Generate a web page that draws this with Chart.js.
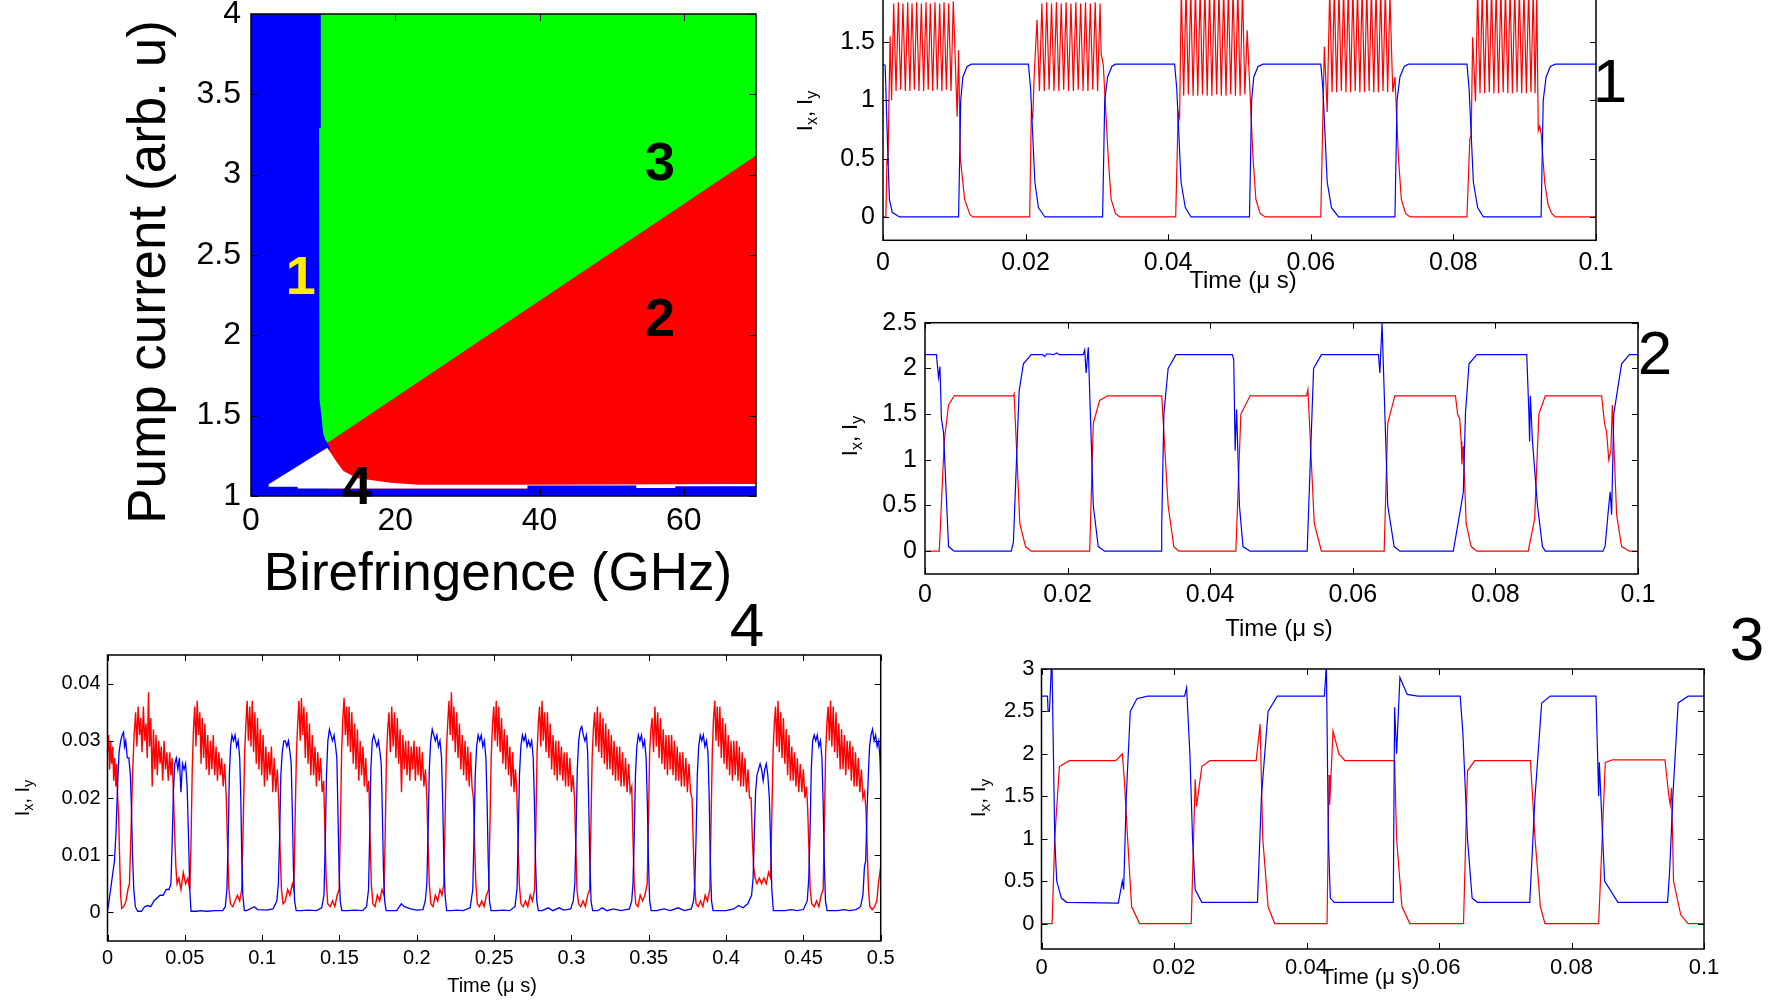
<!DOCTYPE html>
<html>
<head>
<meta charset="utf-8">
<script src="https://cdn.jsdelivr.net/npm/chart.js@4.4.1/dist/chart.umd.min.js"></script>
<style>
  html, body { margin: 0; padding: 0; background: #fff; width: 1775px; height: 1001px; overflow: hidden; }
  canvas { position: absolute; }
</style>
</head>
<body>
<canvas id="mapChart"></canvas>
<canvas id="trace1"></canvas>
<canvas id="trace2"></canvas>
<canvas id="trace3"></canvas>
<canvas id="trace4"></canvas>
<script>
/* ========= DATA ========= */

// phase map regions (birefringence GHz, pump current)
const greenZone = [[0, 1], [0, 4], [70, 4], [70, 1]];
const redZone = [[10.57, 1.33], [69.4, 3.1], [70, 3.12], [70, 1], [10.57, 1]];
const blueZone = [[0, 1], [0, 4], [9.67, 4], [9.67, 3.29], [9.45, 3.29], [9.45, 1.85], [9.55, 1.6],
  [9.76, 1.5], [10.0, 1.39], [10.3, 1.35], [10.6, 1.33], [10.9, 1.3], [10.9, 1]];
const blueStrip = [[0, 1], [0, 1.046], [38.3, 1.046], [38.3, 1.065], [53.4, 1.065], [53.4, 1.05],
  [58.8, 1.05], [58.8, 1.06], [70, 1.06], [70, 1]];
const whiteStrip = [[38.3, 1.046], [38.3, 1.07], [70, 1.075], [70, 1.046]];
const whiteZone = [[2.45, 1.058], [2.45, 1.073], [10.57, 1.3], [11.9, 1.21], [12.8, 1.156], [14.7, 1.11],
  [19.4, 1.083], [23.2, 1.07], [38.3, 1.07], [38.3, 1.046], [6.46, 1.046], [6.46, 1.058]];
const mapXTicks = [0, 20, 40, 60];
const mapXLabels = ["0", "20", "40", "60"];
const mapYTicks = [1, 1.5, 2, 2.5, 3, 3.5, 4];
const mapYLabels = ["1", "1.5", "2", "2.5", "3", "3.5", "4"];

// panel 1 (time in µs, intensity)
const p1Blue = [[0,1.31],[0.0003,1.3],[0.0007,0.5],[0.0009,0.15],[0.0013,0.04],[0.0023,0],[0.0106,0],
  [0.0109,1.0],[0.0112,1.2],[0.0118,1.29],[0.0124,1.31],[0.0204,1.31],[0.0207,1.1],[0.0213,0.3],[0.0218,0.08],
  [0.0227,0],[0.0308,0],[0.0311,1.0],[0.0315,1.2],[0.0321,1.29],[0.0326,1.31],[0.0409,1.31],[0.0412,1.1],
  [0.0418,0.3],[0.0424,0.08],[0.0432,0],[0.0514,0],[0.0517,1.0],[0.052,1.2],[0.0526,1.29],[0.0533,1.31],
  [0.0614,1.31],[0.0617,1.1],[0.0623,0.3],[0.0629,0.08],[0.0639,0],[0.0718,0],[0.0721,1.0],[0.0725,1.2],
  [0.0731,1.29],[0.0737,1.31],[0.0819,1.31],[0.0822,1.1],[0.0828,0.3],[0.0834,0.08],[0.0842,0],[0.0923,0],
  [0.0926,1.0],[0.093,1.2],[0.0936,1.29],[0.0943,1.31],[0.1,1.31]];
const p1Red = [
  [0,0],[0.0004,0],[0.00056,0.5],[0.0007,0.45],[0.00084,1.0],[0.001,1.55],[0.0012,1.0],
  [0.0015,1.83],[0.00183,1.08],[0.00215,1.84],[0.00248,1.09],[0.0028,1.83],[0.00313,1.08],[0.00346,1.84],
  [0.00377,1.08],[0.00407,1.83],[0.0044,1.09],[0.00472,1.84],[0.00505,1.08],[0.00538,1.83],[0.0057,1.08],
  [0.00603,1.84],[0.00634,1.09],[0.00664,1.83],[0.00697,1.08],[0.00729,1.84],[0.00762,1.09],[0.00795,1.83],
  [0.00826,1.08],[0.00856,1.84],[0.00889,1.09],[0.00921,1.83],[0.00954,1.08],[0.00986,1.85],[0.0104,0.86],
  [0.0106,1.43],[0.01085,0.5],[0.01145,0.15],[0.0122,0.02],[0.0126,0],
  [0.02057,0],[0.0208,0.89],[0.021,0.85],[0.0212,1.2],[0.0216,1.69],[0.02194,1.08],[0.02228,1.83],
  [0.02262,1.08],[0.02296,1.84],[0.0233,1.09],[0.02364,1.83],[0.02398,1.08],[0.02432,1.84],[0.02466,1.08],
  [0.025,1.83],[0.02534,1.09],[0.02568,1.84],[0.02602,1.08],[0.02636,1.83],[0.0267,1.08],[0.02704,1.84],
  [0.02738,1.09],[0.02772,1.83],[0.02806,1.08],[0.0284,1.84],[0.02874,1.08],[0.02908,1.83],[0.02942,1.09],
  [0.02976,1.84],[0.0301,1.08],[0.03044,1.83],[0.0306,1.4],[0.0309,1.3],[0.0316,0.5],[0.032,0.15],
  [0.0326,0.03],[0.0332,0],
  [0.04105,0],[0.0414,0.9],[0.0416,0.85],[0.04184,1.95],[0.04217,1.04],[0.0425,1.96],[0.04283,1.05],
  [0.04316,1.95],[0.04349,1.04],[0.04382,1.96],[0.04415,1.04],[0.04448,1.95],[0.04481,1.05],[0.04514,1.96],
  [0.04547,1.04],[0.0458,1.95],[0.04613,1.04],[0.04646,1.96],[0.04679,1.05],[0.04712,1.95],[0.04745,1.04],
  [0.04778,1.96],[0.04811,1.04],[0.04844,1.95],[0.04877,1.05],[0.0491,1.96],[0.04943,1.04],[0.04976,1.95],
  [0.05009,1.04],[0.05042,1.96],[0.05075,1.05],[0.05108,1.6],[0.0513,1.3],[0.0519,0.5],[0.0523,0.15],
  [0.0529,0.03],[0.0536,0],
  [0.0614,0],[0.0619,1.46],[0.0623,0.9],[0.06265,1.95],[0.06298,1.07],[0.0633,1.96],[0.06363,1.07],
  [0.06395,1.95],[0.06428,1.08],[0.0646,1.96],[0.06493,1.07],[0.06525,1.95],[0.06558,1.07],[0.0659,1.96],
  [0.06623,1.08],[0.06655,1.95],[0.06688,1.07],[0.0672,1.96],[0.06753,1.07],[0.06785,1.95],[0.06818,1.08],
  [0.0685,1.96],[0.06883,1.07],[0.06915,1.95],[0.06948,1.07],[0.0698,1.96],[0.07013,1.08],[0.07045,1.95],
  [0.07078,1.07],[0.0711,1.9],[0.0715,1.07],[0.0718,1.2],[0.0723,0.5],[0.0727,0.15],[0.0733,0.03],[0.0739,0],
  [0.0819,0],[0.0823,0.67],[0.0825,0.7],[0.0827,1.54],[0.0831,0.99],[0.0834,1.95],[0.08373,1.06],
  [0.08405,1.96],[0.08438,1.06],[0.0847,1.95],[0.08503,1.07],[0.08535,1.96],[0.08568,1.06],[0.086,1.95],
  [0.08633,1.06],[0.08665,1.96],[0.08698,1.07],[0.0873,1.95],[0.08763,1.06],[0.08795,1.96],[0.08828,1.06],
  [0.0886,1.95],[0.08893,1.07],[0.08925,1.96],[0.08958,1.06],[0.0899,1.95],[0.09023,1.06],[0.09055,1.96],
  [0.09088,1.07],[0.0912,1.95],[0.09145,1.06],[0.0917,1.9],[0.0919,0.74],[0.0921,0.78],[0.0923,0.72],
  [0.0928,0.3],[0.0933,0.1],[0.0938,0.03],[0.0943,0],[0.1,0]];

// panel 2
const p2Blue = [[0,2.15],[0.0016,2.15],[0.0019,1.9],[0.0021,2.02],[0.0023,1.45],[0.0026,1.3],[0.0033,0.05],
  [0.0041,0],[0.0121,0],[0.0124,0.1],[0.0132,1.75],[0.0138,2.05],[0.0149,2.15],[0.0165,2.15],[0.0168,2.13],
  [0.0171,2.16],[0.018,2.15],[0.0185,2.17],[0.0188,2.15],[0.0222,2.15],[0.0224,2.2],[0.0226,1.95],
  [0.0229,2.23],[0.0236,0.5],[0.0243,0.05],[0.0252,0],[0.0331,0],[0.0332,0.28],[0.0335,1.5],[0.0341,2.0],
  [0.0352,2.15],[0.0431,2.15],[0.0433,2.1],[0.0435,1.1],[0.0437,1.55],[0.0441,0.5],[0.0446,0.05],[0.0456,0],
  [0.0536,0],[0.0545,2.0],[0.0556,2.15],[0.0636,2.15],[0.0638,1.95],[0.0641,2.5],[0.0649,0.5],[0.0658,0.05],
  [0.0666,0],[0.0741,0],[0.0753,0.55],[0.0755,0.65],[0.0758,1.5],[0.0763,2.05],[0.0774,2.15],[0.0844,2.15],
  [0.0847,1.5],[0.0848,1.2],[0.0849,1.7],[0.0852,1.2],[0.0859,0.5],[0.0866,0.05],[0.087,0],[0.0951,0],
  [0.0954,0.06],[0.0959,0.5],[0.0961,0.65],[0.0963,0.4],[0.0966,1.5],[0.0977,2.05],[0.0988,2.15],[0.1,2.15]];
const p2Red = [[0,0],[0.002,0],[0.0027,1.2],[0.0033,1.6],[0.0041,1.7],[0.0124,1.7],[0.0125,1.72],[0.0133,0.3],
  [0.0141,0.05],[0.0149,0],[0.0231,0],[0.0236,1.4],[0.0245,1.65],[0.0256,1.7],[0.0332,1.7],[0.0341,0.5],
  [0.0349,0.05],[0.0356,0],[0.0436,0],[0.0443,1.5],[0.0456,1.7],[0.0535,1.7],[0.0537,1.77],[0.0546,0.3],
  [0.0556,0],[0.0644,0],[0.0649,1.4],[0.0659,1.7],[0.0744,1.7],[0.0747,1.5],[0.075,1.45],[0.0752,1.2],
  [0.0753,0.95],[0.0755,1.15],[0.0759,0.3],[0.0766,0.05],[0.0774,0],[0.0846,0],[0.0855,0.35],[0.0861,1.5],
  [0.087,1.7],[0.0949,1.7],[0.0953,1.4],[0.0956,1.3],[0.0959,1.0],[0.0962,1.1],[0.0964,1.6],[0.097,0.4],
  [0.0977,0.05],[0.0988,0],[0.1,0]];

// panel 3
const p3Blue = [[0,2.68],[0.0009,2.68],[0.001,2.5],[0.0012,2.5],[0.0015,3.05],[0.0016,3.0],[0.0018,2.0],
  [0.002,1.0],[0.0023,0.5],[0.003,0.3],[0.0038,0.25],[0.0116,0.24],[0.0122,0.5],[0.0124,0.4],[0.0128,1.5],
  [0.0134,2.5],[0.0144,2.65],[0.016,2.68],[0.0216,2.68],[0.0219,2.78],[0.0224,2.0],[0.0228,1.0],[0.0232,0.4],
  [0.0242,0.25],[0.0326,0.25],[0.0332,1.5],[0.0342,2.5],[0.0356,2.68],[0.0427,2.68],[0.043,3.05],[0.0433,1.0],
  [0.0436,0.3],[0.0442,0.25],[0.0531,0.25],[0.0533,2.55],[0.0536,2.0],[0.0541,2.9],[0.0552,2.7],[0.0568,2.68],
  [0.0632,2.68],[0.0636,2.25],[0.0643,1.0],[0.065,0.3],[0.0658,0.25],[0.0737,0.25],[0.0745,1.5],[0.0755,2.6],
  [0.0768,2.68],[0.0837,2.68],[0.0841,1.5],[0.0842,1.9],[0.085,0.5],[0.087,0.25],[0.0945,0.25],[0.0948,0.6],
  [0.0953,1.5],[0.0961,2.6],[0.0976,2.68],[0.1,2.68]];
const p3Red = [[0,0],[0.0016,0],[0.002,1.0],[0.0027,1.85],[0.0042,1.92],[0.0112,1.92],[0.0122,2.0],[0.0125,1.7],
  [0.013,1.0],[0.0136,0.2],[0.0148,0],[0.0226,0],[0.0232,1.7],[0.0234,1.38],[0.0242,1.85],[0.0254,1.92],
  [0.0324,1.92],[0.033,2.35],[0.0334,1.0],[0.0342,0.2],[0.0352,0],[0.0431,0],[0.0434,1.75],[0.0435,1.4],
  [0.044,2.27],[0.0449,2.0],[0.0458,1.92],[0.0533,1.92],[0.0536,1.0],[0.0544,0.2],[0.0556,0],[0.0637,0],
  [0.0643,1.8],[0.0654,1.92],[0.0738,1.92],[0.0745,1.0],[0.0753,0.2],[0.076,0],[0.0841,0],[0.0851,1.9],
  [0.0862,1.93],[0.0941,1.93],[0.0947,1.5],[0.0949,1.4],[0.0951,1.6],[0.0954,0.5],[0.0965,0.1],[0.0976,0],[0.1,0]];

// panel 4
const p4Red = [
  [0,0.028],[0.0007,0.031],[0.0014,0.025],[0.002,0.030],[0.0027,0.026],[0.0034,0.029],[0.004,0.023],[0.0047,0.027],
  [0.0054,0.022],[0.006,0.026],[0.0066,0.02],[0.0072,0.017],[0.0078,0.01],[0.0085,0.003],[0.0092,0.0007],
  [0.0105,0.001],[0.012,0.002],[0.0132,0.004],[0.0142,0.005],[0.0152,0.014],[0.0162,0.024],[0.0172,0.031],
  [0.0182,0.035],[0.019,0.029],[0.0198,0.036],[0.0207,0.031],[0.0215,0.034],[0.0223,0.028],[0.0232,0.036],
  [0.024,0.030],[0.0249,0.033],[0.0257,0.027],[0.0265,0.0385],[0.0272,0.029],[0.028,0.034],[0.0289,0.022],
  [0.0297,0.032],[0.0306,0.025],[0.0314,0.031],[0.0322,0.024],[0.0331,0.030],[0.034,0.026],[0.0348,0.029],
  [0.0357,0.023],[0.0366,0.030],[0.0375,0.025],[0.0384,0.028],[0.0393,0.023],[0.0402,0.028],[0.041,0.024],
  [0.0418,0.027],[0.0426,0.021],[0.0434,0.014],[0.0442,0.008],[0.045,0.005],
  [0.0462,0.006],[0.0475,0.004],[0.049,0.007],[0.0505,0.005],[0.052,0.006],[0.0532,0.004],[0.054,0.012],
  [0.0548,0.025],[0.0556,0.032],[0.0564,0.036],[0.0572,0.029],[0.058,0.037],[0.0588,0.031],[0.0597,0.035],
  [0.0605,0.026],[0.0613,0.034],[0.0622,0.027],[0.063,0.033],[0.0639,0.025],[0.0648,0.031],[0.0657,0.024],
  [0.0666,0.030],[0.0675,0.025],[0.0684,0.031],[0.0693,0.024],[0.0702,0.029],[0.0711,0.023],[0.072,0.028],
  [0.0729,0.024],[0.0738,0.027],[0.0748,0.022],[0.0758,0.026],[0.0768,0.02],[0.0776,0.012],[0.0785,0.004],
  [0.0795,0.0015],[0.081,0.001],[0.0825,0.002],[0.084,0.003],[0.0855,0.002],[0.0868,0.004],
  [0.0878,0.016],[0.0887,0.028],[0.0895,0.033],[0.0903,0.037],[0.0911,0.030],[0.092,0.036],[0.0928,0.029],
  [0.0936,0.037],[0.0945,0.028],[0.0953,0.035],[0.0962,0.026],[0.097,0.034],[0.0979,0.025],[0.0988,0.032],
  [0.0997,0.024],[0.1006,0.031],[0.1015,0.022],[0.1024,0.029],[0.1033,0.023],[0.1042,0.028],[0.1051,0.024],
  [0.106,0.029],[0.1069,0.021],[0.1078,0.027],[0.1088,0.021],[0.1098,0.025],[0.1108,0.019],[0.1116,0.011],
  [0.1125,0.004],[0.1135,0.0015],[0.115,0.002],[0.1165,0.004],[0.118,0.003],[0.1195,0.005],[0.1205,0.004],
  [0.1213,0.016],[0.1222,0.028],[0.123,0.033],[0.1238,0.037],[0.1246,0.030],[0.1254,0.0375],[0.1262,0.031],
  [0.127,0.036],[0.1279,0.027],[0.1288,0.035],[0.1297,0.026],[0.1306,0.033],[0.1315,0.024],[0.1324,0.031],
  [0.1333,0.024],[0.1342,0.029],[0.1351,0.022],[0.136,0.028],[0.1369,0.023],[0.1378,0.027],[0.1388,0.021],
  [0.1398,0.023],[0.1406,0.014],[0.1414,0.006],[0.1424,0.0015],[0.144,0.001],[0.1455,0.002],[0.147,0.001],
  [0.1485,0.003],[0.1498,0.004],[0.1506,0.015],[0.1514,0.028],[0.1522,0.034],[0.153,0.0375],[0.1538,0.031],
  [0.1546,0.036],[0.1554,0.029],[0.1562,0.036],[0.1571,0.028],[0.158,0.035],[0.1589,0.026],[0.1598,0.033],
  [0.1607,0.025],[0.1616,0.032],[0.1625,0.023],[0.1634,0.030],[0.1643,0.024],[0.1652,0.029],[0.1661,0.022],
  [0.167,0.027],[0.168,0.021],[0.169,0.023],[0.1698,0.013],[0.1706,0.005],[0.1716,0.0015],[0.173,0.001],
  [0.1745,0.003],[0.176,0.002],[0.1775,0.004],[0.1788,0.003],[0.1796,0.014],[0.1804,0.027],[0.1812,0.032],
  [0.182,0.035],[0.1829,0.028],[0.1838,0.036],[0.1847,0.029],[0.1856,0.035],[0.1865,0.027],[0.1874,0.034],
  [0.1883,0.026],[0.1892,0.032],[0.1901,0.021],[0.191,0.031],[0.1919,0.025],[0.1928,0.030],[0.1937,0.024],
  [0.1946,0.030],[0.1955,0.023],[0.1964,0.029],[0.1973,0.025],[0.1982,0.030],[0.1991,0.023],[0.2,0.029],
  [0.2009,0.024],[0.2018,0.029],[0.2027,0.023],[0.2036,0.028],[0.2046,0.022],[0.2056,0.025],[0.2065,0.02],
  [0.2073,0.012],[0.2081,0.005],[0.2091,0.0015],[0.2105,0.001],[0.212,0.003],[0.2135,0.002],[0.215,0.004],
  [0.2163,0.003],[0.2175,0.005],[0.2183,0.016],[0.2191,0.028],[0.22,0.033],[0.2208,0.037],[0.2216,0.031],
  [0.2224,0.0385],[0.2232,0.030],[0.224,0.036],[0.2249,0.028],[0.2258,0.035],[0.2267,0.027],[0.2276,0.033],
  [0.2285,0.025],[0.2294,0.031],[0.2303,0.024],[0.2312,0.030],[0.2321,0.023],[0.233,0.029],[0.2339,0.022],
  [0.2348,0.028],[0.2357,0.022],[0.2366,0.02],[0.2374,0.012],[0.2382,0.005],[0.2392,0.0015],[0.2405,0.001],
  [0.242,0.002],[0.2435,0.001],[0.245,0.003],[0.2465,0.004],[0.2473,0.015],[0.2481,0.027],[0.249,0.033],
  [0.2498,0.036],[0.2506,0.030],[0.2514,0.037],[0.2522,0.029],[0.253,0.036],[0.2539,0.028],[0.2548,0.034],
  [0.2557,0.026],[0.2566,0.032],[0.2575,0.025],[0.2584,0.031],[0.2593,0.024],[0.2602,0.029],[0.2611,0.022],
  [0.262,0.028],[0.2629,0.021],[0.2638,0.025],[0.2647,0.021],[0.2655,0.012],[0.2663,0.005],[0.2673,0.0015],
  [0.2688,0.001],[0.2703,0.002],[0.2718,0.001],[0.2733,0.003],[0.2748,0.002],[0.2762,0.004],[0.277,0.015],
  [0.2778,0.028],[0.2786,0.033],[0.2794,0.036],[0.2802,0.029],[0.281,0.037],[0.2818,0.030],[0.2827,0.035],
  [0.2836,0.028],[0.2845,0.035],[0.2854,0.027],[0.2863,0.033],[0.2872,0.025],[0.2881,0.031],[0.289,0.024],
  [0.2899,0.030],[0.2908,0.023],[0.2917,0.030],[0.2926,0.024],[0.2935,0.029],[0.2944,0.023],[0.2953,0.028],
  [0.2962,0.022],[0.2971,0.028],[0.298,0.022],[0.299,0.027],[0.3,0.021],[0.301,0.024],[0.302,0.02],
  [0.3028,0.012],[0.3036,0.004],[0.3046,0.0015],[0.306,0.001],[0.3075,0.002],[0.309,0.001],[0.3105,0.003],
  [0.3118,0.004],[0.3126,0.015],[0.3134,0.027],[0.3142,0.032],[0.315,0.035],[0.3159,0.029],[0.3168,0.036],
  [0.3177,0.028],[0.3186,0.035],[0.3195,0.027],[0.3204,0.034],[0.3213,0.026],[0.3222,0.033],[0.3231,0.025],
  [0.324,0.032],[0.3249,0.025],[0.3258,0.031],[0.3267,0.024],[0.3276,0.030],[0.3285,0.023],[0.3294,0.029],
  [0.3303,0.023],[0.3312,0.029],[0.3321,0.022],[0.333,0.028],[0.334,0.022],[0.335,0.027],[0.336,0.021],
  [0.337,0.026],[0.338,0.021],[0.339,0.022],[0.3398,0.013],[0.3406,0.005],[0.3416,0.0015],[0.343,0.001],
  [0.3445,0.003],[0.346,0.002],[0.3475,0.003],[0.349,0.005],[0.3498,0.016],[0.3506,0.028],[0.3514,0.032],
  [0.3522,0.034],[0.3531,0.028],[0.354,0.036],[0.3549,0.029],[0.3558,0.035],[0.3567,0.027],[0.3576,0.034],
  [0.3585,0.026],[0.3594,0.032],[0.3603,0.025],[0.3612,0.031],[0.3621,0.024],[0.363,0.031],[0.3639,0.025],
  [0.3648,0.031],[0.3657,0.024],[0.3666,0.030],[0.3675,0.023],[0.3684,0.029],[0.3693,0.023],[0.3702,0.028],
  [0.3711,0.022],[0.372,0.028],[0.373,0.022],[0.374,0.027],[0.375,0.021],[0.376,0.026],[0.377,0.021],
  [0.378,0.02],[0.3788,0.012],[0.3796,0.005],[0.3806,0.0015],[0.382,0.001],[0.3835,0.002],[0.385,0.001],
  [0.3865,0.003],[0.388,0.002],[0.3895,0.004],[0.3903,0.016],[0.3911,0.028],[0.3919,0.034],[0.3927,0.037],
  [0.3935,0.030],[0.3943,0.036],[0.3951,0.029],[0.396,0.036],[0.3969,0.027],[0.3978,0.034],[0.3987,0.026],
  [0.3996,0.033],[0.4005,0.025],[0.4014,0.031],[0.4023,0.024],[0.4032,0.030],[0.4041,0.023],[0.405,0.030],
  [0.4059,0.024],[0.4068,0.030],[0.4077,0.023],[0.4086,0.029],[0.4095,0.022],[0.4104,0.028],[0.4113,0.022],
  [0.4122,0.027],[0.4132,0.021],[0.4142,0.025],[0.4152,0.02],[0.4162,0.02],[0.417,0.013],[0.4178,0.008],
  [0.4188,0.006],[0.42,0.005],[0.4215,0.006],[0.423,0.005],[0.4245,0.006],[0.426,0.005],[0.4275,0.007],
  [0.4288,0.006],[0.4296,0.017],[0.4304,0.028],[0.4312,0.033],[0.432,0.036],[0.4328,0.029],[0.4336,0.037],
  [0.4344,0.028],[0.4353,0.035],[0.4362,0.027],[0.4371,0.034],[0.438,0.026],[0.4389,0.032],[0.4398,0.024],
  [0.4407,0.031],[0.4416,0.023],[0.4425,0.029],[0.4434,0.023],[0.4443,0.028],[0.4452,0.022],[0.4461,0.027],
  [0.447,0.021],[0.448,0.026],[0.449,0.021],[0.45,0.025],[0.451,0.02],[0.452,0.022],[0.4528,0.018],
  [0.4536,0.011],[0.4544,0.004],[0.4554,0.0015],[0.457,0.001],[0.4585,0.002],[0.46,0.001],[0.4615,0.003],
  [0.4628,0.004],[0.4636,0.016],[0.4644,0.028],[0.4652,0.033],[0.466,0.036],[0.4668,0.030],[0.4676,0.037],
  [0.4684,0.029],[0.4693,0.036],[0.4702,0.028],[0.4711,0.035],[0.472,0.027],[0.4729,0.033],[0.4738,0.025],
  [0.4747,0.032],[0.4756,0.025],[0.4765,0.031],[0.4774,0.024],[0.4783,0.030],[0.4792,0.025],[0.4801,0.030],
  [0.481,0.023],[0.4819,0.029],[0.4828,0.022],[0.4837,0.028],[0.4846,0.022],[0.4855,0.027],[0.4865,0.021],
  [0.4875,0.025],[0.4885,0.02],[0.4895,0.021],[0.4905,0.018],[0.4913,0.011],[0.4921,0.004],[0.493,0.001],
  [0.4945,0.0005],[0.496,0.001],[0.4975,0.002],[0.4985,0.005],[0.5,0.008]];
const p4Blue = [
  [0,0.0002],[0.001,0.002],[0.002,0.004],[0.003,0.006],[0.0045,0.009],[0.0055,0.014],[0.0065,0.022],
  [0.0075,0.028],[0.0085,0.030],[0.0095,0.031],[0.0104,0.0315],[0.011,0.029],[0.0118,0.030],[0.0128,0.027],
  [0.0138,0.027],[0.0148,0.024],[0.0155,0.018],[0.0162,0.010],[0.017,0.004],[0.018,0.001],[0.0195,0.0002],
  [0.022,0.0002],[0.024,0.001],[0.026,0.0012],[0.028,0.001],[0.03,0.002],[0.032,0.0025],[0.034,0.003],
  [0.036,0.003],[0.038,0.004],[0.0398,0.004],[0.041,0.005],
  [0.0418,0.012],[0.0426,0.021],[0.0435,0.026],[0.0445,0.027],[0.0455,0.025],[0.0465,0.027],[0.0475,0.021],
  [0.0485,0.026],[0.0495,0.025],[0.0505,0.026],[0.0515,0.022],[0.0525,0.012],[0.0532,0.004],[0.054,0.0002],
  [0.056,0.0002],[0.058,0.0002],[0.06,0.0003],[0.064,0.0002],[0.07,0.0003],[0.0745,0.0003],[0.0762,0.001],
  [0.0772,0.004],[0.078,0.012],[0.0788,0.024],[0.0796,0.029],[0.0805,0.031],[0.0815,0.030],[0.0825,0.031],
  [0.0835,0.029],[0.0845,0.030],[0.0855,0.027],[0.0862,0.02],[0.0868,0.01],[0.0875,0.003],[0.0885,0.0003],
  [0.09,0.0003],[0.095,0.001],[0.097,0.0005],[0.103,0.0004],[0.107,0.0006],[0.1095,0.002],[0.1105,0.005],
  [0.1113,0.013],[0.1121,0.024],[0.113,0.028],[0.114,0.030],[0.115,0.030],[0.116,0.029],[0.117,0.030],
  [0.118,0.028],[0.1188,0.026],[0.1195,0.018],[0.1202,0.008],[0.121,0.002],[0.122,0.0003],
  [0.125,0.0003],[0.13,0.0004],[0.135,0.0003],[0.1385,0.0008],[0.14,0.003],
  [0.1408,0.012],[0.1416,0.024],[0.1425,0.030],[0.1435,0.032],[0.1445,0.031],[0.1455,0.030],[0.1465,0.031],
  [0.1475,0.029],[0.1483,0.027],[0.149,0.018],[0.1497,0.008],[0.1505,0.002],[0.1515,0.0003],
  [0.155,0.0003],[0.16,0.0004],[0.165,0.0003],[0.1675,0.001],[0.1688,0.004],
  [0.1695,0.013],[0.1703,0.025],[0.1712,0.030],[0.1722,0.031],[0.1732,0.030],[0.1742,0.029],[0.1752,0.030],
  [0.1762,0.028],[0.177,0.026],[0.1777,0.018],[0.1784,0.008],[0.1792,0.002],[0.1802,0.0003],
  [0.183,0.0003],[0.187,0.0003],[0.19,0.0015],[0.192,0.001],[0.196,0.0006],[0.2,0.0004],[0.204,0.0005],
  [0.2055,0.002],[0.2065,0.005],
  [0.2073,0.014],[0.2081,0.025],[0.209,0.030],[0.21,0.032],[0.211,0.031],[0.212,0.030],[0.213,0.031],
  [0.214,0.029],[0.215,0.030],[0.216,0.027],[0.2168,0.019],[0.2175,0.009],[0.2183,0.003],[0.2193,0.0003],
  [0.222,0.0003],[0.226,0.0004],[0.23,0.0003],[0.2345,0.0008],[0.2362,0.004],
  [0.237,0.013],[0.2378,0.024],[0.2387,0.029],[0.2397,0.031],[0.2407,0.030],[0.2417,0.031],[0.2427,0.029],
  [0.2437,0.030],[0.2447,0.027],[0.2455,0.019],[0.2462,0.009],[0.247,0.002],[0.248,0.0003],
  [0.251,0.0003],[0.256,0.0004],[0.26,0.0003],[0.2635,0.001],[0.2648,0.004],
  [0.2656,0.013],[0.2664,0.024],[0.2673,0.029],[0.2683,0.031],[0.2693,0.030],[0.2703,0.031],[0.2713,0.029],
  [0.2723,0.030],[0.2733,0.029],[0.2743,0.030],[0.2753,0.027],[0.2761,0.019],[0.2768,0.009],[0.2776,0.002],
  [0.2786,0.0003],[0.281,0.0003],[0.285,0.0008],[0.288,0.0003],[0.292,0.0008],[0.295,0.0004],[0.2995,0.0006],
  [0.3012,0.002],[0.3022,0.005],
  [0.303,0.014],[0.3038,0.025],[0.3047,0.030],[0.3057,0.032],[0.3067,0.0325],[0.3077,0.031],[0.3087,0.030],
  [0.3097,0.031],[0.3105,0.028],[0.3112,0.019],[0.3119,0.009],[0.3127,0.002],[0.3137,0.0003],
  [0.317,0.0003],[0.32,0.0008],[0.323,0.0003],[0.327,0.0006],[0.332,0.0003],[0.3375,0.0006],[0.339,0.002],
  [0.3398,0.005],
  [0.3406,0.013],[0.3414,0.024],[0.3423,0.029],[0.3433,0.031],[0.3443,0.030],[0.3453,0.031],[0.3463,0.029],
  [0.3473,0.030],[0.3483,0.027],[0.3491,0.019],[0.3498,0.009],[0.3506,0.002],[0.3516,0.0003],
  [0.355,0.0003],[0.36,0.0006],[0.364,0.0003],[0.369,0.0008],[0.373,0.0003],[0.3775,0.0006],[0.379,0.002],
  [0.3798,0.005],
  [0.3806,0.013],[0.3814,0.024],[0.3823,0.029],[0.3833,0.031],[0.3843,0.030],[0.3853,0.031],[0.3863,0.029],
  [0.3873,0.030],[0.3883,0.028],[0.3891,0.020],[0.3898,0.009],[0.3906,0.002],[0.3916,0.0003],
  [0.395,0.0003],[0.4,0.0003],[0.405,0.0006],[0.408,0.0012],[0.411,0.0008],[0.414,0.0015],[0.4165,0.003],
  [0.4175,0.006],
  [0.4183,0.014],[0.4191,0.021],[0.42,0.024],[0.421,0.025],[0.422,0.026],[0.423,0.025],[0.424,0.023],
  [0.425,0.025],[0.426,0.026],[0.427,0.024],[0.428,0.02],[0.4288,0.012],[0.4296,0.004],[0.4306,0.0003],
  [0.434,0.0003],[0.438,0.0003],[0.442,0.0005],[0.446,0.0003],[0.45,0.0005],[0.4525,0.002],[0.4535,0.006],
  [0.4543,0.014],[0.4551,0.025],[0.456,0.030],[0.457,0.031],[0.458,0.030],[0.459,0.031],[0.46,0.029],
  [0.461,0.030],[0.462,0.027],[0.4628,0.019],[0.4635,0.009],[0.4643,0.002],[0.4653,0.0003],
  [0.468,0.0003],[0.472,0.0003],[0.476,0.0005],[0.48,0.0003],[0.484,0.0005],[0.487,0.001],[0.4885,0.003],
  [0.4895,0.008],
  [0.4903,0.009],[0.4912,0.018],[0.492,0.024],[0.4928,0.029],[0.4937,0.031],[0.4947,0.032],[0.4957,0.030],
  [0.4967,0.031],[0.4977,0.029],[0.4987,0.030],[0.4995,0.027],[0.5,0.023]];

const t01Ticks = [0, 0.02, 0.04, 0.06, 0.08, 0.1];
const t01Labels = ["0", "0.02", "0.04", "0.06", "0.08", "0.1"];
const t05Ticks = [0, 0.05, 0.1, 0.15, 0.2, 0.25, 0.3, 0.35, 0.4, 0.45, 0.5];
const t05Labels = ["0", "0.05", "0.1", "0.15", "0.2", "0.25", "0.3", "0.35", "0.4", "0.45", "0.5"];
const p1YTicks = [0, 0.5, 1, 1.5, 2];
const p1YLabels = ["0", "0.5", "1", "1.5", "2"];
const p2YTicks = [0, 0.5, 1, 1.5, 2, 2.5];
const p2YLabels = ["0", "0.5", "1", "1.5", "2", "2.5"];
const p3YTicks = [0, 0.5, 1, 1.5, 2, 2.5, 3];
const p3YLabels = ["0", "0.5", "1", "1.5", "2", "2.5", "3"];
const p4YTicks = [0, 0.01, 0.02, 0.03, 0.04];
const p4YLabels = ["0", "0.01", "0.02", "0.03", "0.04"];

/* ========= HELPERS ========= */

const SANS = "'Liberation Sans', Arial, sans-serif";
const NARROW = "'Liberation Sans Narrow', 'Liberation Sans', Arial, sans-serif";
const decor = {};

function pts(arr) {
  return arr.map(p => ({ x: p[0], y: p[1] }));
}

function drawText(ctx, t, ox, oy) {
  ctx.save();
  ctx.translate(t.x - ox, t.y - oy);
  if (t.rot) ctx.rotate(t.rot);
  ctx.fillStyle = t.color || "#000";
  ctx.textBaseline = "middle";
  const fam = t.family || SANS;
  const fnt = (s) => (t.bold ? "bold " : "") + s + "px " + fam;
  if (t.parts) {
    let w = 0;
    t.parts.forEach(([s, sub]) => { ctx.font = fnt(sub ? t.size * 0.72 : t.size); w += ctx.measureText(s).width; });
    let x = -w / 2;
    ctx.textAlign = "left";
    t.parts.forEach(([s, sub]) => {
      ctx.font = fnt(sub ? t.size * 0.72 : t.size);
      ctx.fillText(s, x, sub ? t.size * 0.32 : 0);
      x += ctx.measureText(s).width;
    });
  } else {
    ctx.font = fnt(t.size);
    ctx.textAlign = "center";
    ctx.fillText(t.text, 0, 0);
  }
  ctx.restore();
}

// matlab style box with inward ticks, plus free text
const framePlugin = {
  id: "frame",
  afterDatasetsDraw(chart) {
    const d = decor[chart.canvas.id];
    const { ctx, chartArea: a, scales } = chart;
    ctx.save();
    ctx.strokeStyle = "#000";
    ctx.lineWidth = d.lw;
    ctx.beginPath();
    scales.x.ticks.forEach(t => {
      const px = Math.round(scales.x.getPixelForValue(t.value)) + 0.5;
      ctx.moveTo(px, a.bottom); ctx.lineTo(px, a.bottom - d.tick);
      ctx.moveTo(px, a.top); ctx.lineTo(px, a.top + d.tick);
    });
    scales.y.ticks.forEach(t => {
      const py = Math.round(scales.y.getPixelForValue(t.value)) + 0.5;
      ctx.moveTo(a.left, py); ctx.lineTo(a.left + d.tick, py);
      ctx.moveTo(a.right, py); ctx.lineTo(a.right - d.tick, py);
    });
    ctx.stroke();
    ctx.lineWidth = d.lw + 0.5;
    ctx.strokeRect(a.left, a.top, a.width, a.height);
    ctx.restore();
    d.texts.forEach(t => {
      if (t.data) {
        const tt = Object.assign({}, t, {
          x: scales.x.getPixelForValue(t.data[0]) + d.box.x,
          y: scales.y.getPixelForValue(t.data[1]) + d.box.y
        });
        drawText(ctx, tt, d.box.x, d.box.y);
      } else {
        drawText(ctx, t, d.box.x, d.box.y);
      }
    });
  }
};

function panel(id, box, area, cfg) {
  const cv = document.getElementById(id);
  cv.width = box.w; cv.height = box.h;
  cv.style.left = box.x + "px"; cv.style.top = box.y + "px";
  cv.style.width = box.w + "px"; cv.style.height = box.h + "px";
  decor[id] = { box, texts: cfg.texts, tick: cfg.tick, lw: cfg.lw || 1 };
  const tickFont = { family: cfg.tickFamily, size: cfg.tickSize };
  new Chart(cv, {
    type: "scatter",
    data: { datasets: cfg.datasets },
    options: {
      responsive: false,
      animation: false,
      events: [],
      layout: { padding: { top: area.t - box.y, right: box.x + box.w - area.r, left: 0, bottom: 0 } },
      plugins: { legend: { display: false }, tooltip: { enabled: false } },
      elements: { point: { radius: 0 }, line: { tension: 0 } },
      scales: {
        x: {
          type: "linear", min: cfg.xMin, max: cfg.xMax,
          afterBuildTicks: s => { s.ticks = cfg.xTicks.map(v => ({ value: v })); },
          afterFit: s => { s.height = box.y + box.h - area.b; },
          grid: { display: false, drawTicks: false },
          border: { display: false },
          ticks: { autoSkip: false, maxRotation: 0, padding: cfg.xPad, color: "#000", font: tickFont,
            callback: (v, i) => cfg.xLabels[i] }
        },
        y: {
          type: "linear", min: cfg.yMin, max: cfg.yMax,
          afterBuildTicks: s => { s.ticks = cfg.yTicks.map(v => ({ value: v })); },
          afterFit: s => { s.width = area.l - box.x; },
          grid: { display: false, drawTicks: false },
          border: { display: false },
          ticks: { autoSkip: false, padding: cfg.yPad, color: "#000", font: tickFont,
            callback: (v, i) => cfg.yLabels[i] }
        }
      }
    },
    plugins: [framePlugin]
  });
}

function zone(arr, color) {
  return { data: pts(arr), showLine: true, fill: "shape", backgroundColor: color,
    borderColor: "rgba(0,0,0,0)", borderWidth: 0, pointRadius: 0 };
}

function trace(arr, color, w) {
  return { data: pts(arr), showLine: true, fill: false, borderColor: color, borderWidth: w || 1.2, pointRadius: 0 };
}

const IXY = [["I", 0], ["x", 1], [", I", 0], ["y", 1]];

/* ========= PHASE MAP ========= */

panel("mapChart", { x: 0, y: -40, w: 800, h: 660 }, { l: 251, t: 14, r: 756, b: 496 }, {
  xMin: 0, xMax: 70, yMin: 1, yMax: 4,
  xTicks: mapXTicks, xLabels: mapXLabels, yTicks: mapYTicks, yLabels: mapYLabels,
  tickFamily: SANS, tickSize: 32, xPad: 6, yPad: 10, tick: 7, lw: 1,
  datasets: [
    zone(whiteZone, "#ffffff"),
    zone(blueStrip, "#0000ff"),
    zone(whiteStrip, "#ffffff"),
    zone(blueZone, "#0000ff"),
    zone(redZone, "#ff0000"),
    zone(greenZone, "#00ff00")
  ],
  texts: [
    { text: "Pump current (arb. u)", x: 150, y: 272, size: 53, rot: -Math.PI / 2 },
    { text: "Birefringence (GHz)", x: 498, y: 575, size: 53 },
    { text: "1", data: [6.9, 2.35], size: 54, bold: true, color: "#ffee00" },
    { text: "3", data: [56.7, 3.06], size: 54, bold: true },
    { text: "2", data: [56.7, 2.09], size: 54, bold: true },
    { text: "4", data: [14.7, 1.045], size: 54, bold: true }
  ]
});

/* ========= TIME TRACES ========= */

panel("trace1", { x: 760, y: -40, w: 960, h: 340 }, { l: 883, t: -16.3, r: 1596, b: 240.3 }, {
  xMin: 0, xMax: 0.1, yMin: -0.2, yMax: 2,
  xTicks: t01Ticks, xLabels: t01Labels, yTicks: p1YTicks, yLabels: p1YLabels,
  tickFamily: NARROW, tickSize: 25, xPad: 8, yPad: 8, tick: 6,
  datasets: [trace(p1Blue, "#0000ff"), trace(p1Red, "#ff0000")],
  texts: [
    { parts: IXY, x: 806, y: 111, size: 22, rot: -Math.PI / 2, family: NARROW },
    { text: "Time (\u03bc s)", x: 1243, y: 281, size: 24, family: NARROW },
    { text: "1", x: 1610, y: 85, size: 62 }
  ]
});

panel("trace2", { x: 800, y: 290, w: 920, h: 370 }, { l: 925, t: 322.7, r: 1638, b: 574 }, {
  xMin: 0, xMax: 0.1, yMin: -0.25, yMax: 2.5,
  xTicks: t01Ticks, xLabels: t01Labels, yTicks: p2YTicks, yLabels: p2YLabels,
  tickFamily: NARROW, tickSize: 25, xPad: 6, yPad: 8, tick: 6,
  datasets: [trace(p2Blue, "#0000ff"), trace(p2Red, "#ff0000")],
  texts: [
    { parts: IXY, x: 851, y: 436, size: 22, rot: -Math.PI / 2, family: NARROW },
    { text: "Time (\u03bc s)", x: 1279, y: 629, size: 24, family: NARROW },
    { text: "2", x: 1655, y: 357, size: 62 }
  ]
});

panel("trace3", { x: 950, y: 600, w: 825, h: 401 }, { l: 1041.5, t: 669, r: 1704, b: 949 }, {
  xMin: 0, xMax: 0.1, yMin: -0.3, yMax: 3,
  xTicks: t01Ticks, xLabels: t01Labels, yTicks: p3YTicks, yLabels: p3YLabels,
  tickFamily: NARROW, tickSize: 22, xPad: 6, yPad: 7, tick: 6,
  datasets: [trace(p3Blue, "#0000ff"), trace(p3Red, "#ff0000")],
  texts: [
    { parts: IXY, x: 979, y: 798, size: 21, rot: -Math.PI / 2, family: NARROW },
    { text: "Time (\u03bc s)", x: 1370, y: 978, size: 22, family: NARROW },
    { text: "3", x: 1747, y: 643, size: 62 }
  ]
});

panel("trace4", { x: 0, y: 590, w: 900, h: 411 }, { l: 107.5, t: 655, r: 880.7, b: 941 }, {
  xMin: 0, xMax: 0.5, yMin: -0.005, yMax: 0.045,
  xTicks: t05Ticks, xLabels: t05Labels, yTicks: p4YTicks, yLabels: p4YLabels,
  tickFamily: NARROW, tickSize: 20, xPad: 5, yPad: 7, tick: 6,
  datasets: [trace(p4Blue, "#0000ff", 1.3), trace(p4Red, "#ff0000", 1.4)],
  texts: [
    { parts: IXY, x: 23, y: 798, size: 20, rot: -Math.PI / 2, family: NARROW },
    { text: "Time (\u03bc s)", x: 492, y: 986, size: 20, family: NARROW },
    { text: "4", x: 747, y: 629, size: 62 }
  ]
});
</script>
</body>
</html>
